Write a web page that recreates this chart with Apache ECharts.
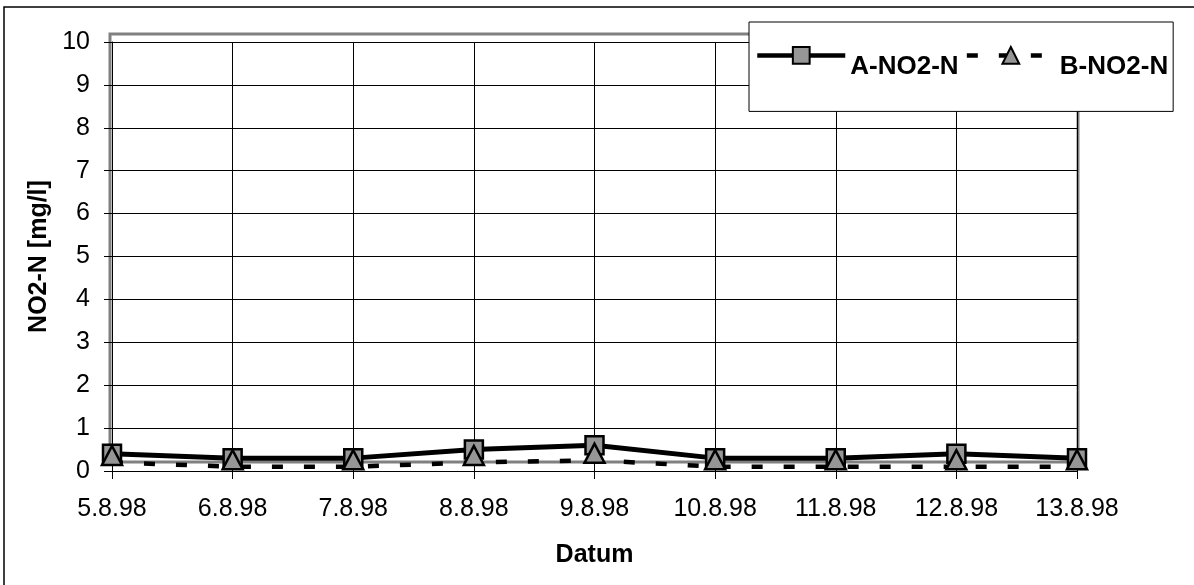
<!DOCTYPE html>
<html>
<head>
<meta charset="utf-8">
<script src="https://cdn.jsdelivr.net/npm/echarts@6/dist/echarts.min.js"></script>
<style>
  html, body { margin: 0; padding: 0; background: #fff; }
  #chart { width: 1194px; height: 585px; }
</style>
</head>
<body>
<div id="chart"></div>
<script>
// Sampling dates (August 1998)
const dates = ['5.8.98', '6.8.98', '7.8.98', '8.8.98', '9.8.98', '10.8.98', '11.8.98', '12.8.98', '13.8.98'];
// Nitrite nitrogen, mg/l
const seriesA = [0.4, 0.3, 0.3, 0.5, 0.6, 0.3, 0.3, 0.4, 0.3];
const seriesB = [0.2, 0.1, 0.1, 0.2, 0.25, 0.1, 0.1, 0.1, 0.1];
const yTicks = { min: 0, max: 10, interval: 1 };

const FONT = '"Liberation Sans", Arial, sans-serif';
const chart = echarts.init(document.getElementById('chart'), null, { renderer: 'canvas' });

chart.setOption({
  animation: false,
  backgroundColor: '#fff',
  textStyle: { fontFamily: FONT },
  grid: { left: 112, right: 117, top: 42, bottom: 114 },
  graphic: [
    // outer chart frame (left and top edges show)
    { type: 'rect', z: 0, shape: { x: 4, y: 7, width: 1300, height: 700 },
      style: { fill: null, stroke: '#000', lineWidth: 1.5 } },
    // plot area frame
    { type: 'rect', z: 0, shape: { x: 110, y: 34, width: 968, height: 428 },
      style: { fill: null, stroke: '#808080', lineWidth: 3 } }
  ],
  legend: {
    left: 749, top: 22,
    padding: [24, 5, 32, 6],
    backgroundColor: '#fff',
    borderColor: '#000',
    borderWidth: 1,
    itemWidth: 88,
    itemHeight: 21,
    itemGap: 6,
    lineStyle: { width: 4.5, color: '#000' },
    formatter: '{t|{name}}',
    textStyle: {
      fontFamily: FONT, fontSize: 26, fontWeight: 'bold', color: '#000',
      rich: { t: { fontFamily: FONT, fontSize: 26, fontWeight: 'bold', color: '#000', padding: [22, 0, 0, 0] } }
    },
    data: ['A-NO2-N', 'B-NO2-N']
  },
  xAxis: {
    type: 'category',
    data: dates,
    boundaryGap: false,
    name: 'Datum',
    nameLocation: 'middle',
    nameGap: 72,
    nameTextStyle: { fontFamily: FONT, fontSize: 25, fontWeight: 'bold', color: '#000' },
    axisLine: { lineStyle: { color: '#000', width: 1 } },
    axisTick: { show: true, length: 8, alignWithLabel: true, lineStyle: { color: '#000' } },
    axisLabel: { fontFamily: FONT, fontSize: 25, color: '#000', margin: 26 },
    splitLine: { show: true, lineStyle: { color: '#000', width: 1 } }
  },
  yAxis: {
    type: 'value',
    min: yTicks.min, max: yTicks.max, interval: yTicks.interval,
    name: 'NO2-N [mg/l]',
    nameLocation: 'middle',
    nameGap: 60,
    nameTextStyle: { fontFamily: FONT, fontSize: 25, fontWeight: 'bold', color: '#000' },
    axisLine: { show: true, lineStyle: { color: '#000', width: 1 } },
    axisTick: { show: true, length: 8, lineStyle: { color: '#000' } },
    axisLabel: { fontFamily: FONT, fontSize: 25, color: '#000', margin: 22 },
    splitLine: { show: true, lineStyle: { color: '#000', width: 1 } }
  },
  series: [
    {
      name: 'A-NO2-N',
      type: 'line',
      data: seriesA,
      symbol: 'rect',
      symbolSize: 18,
      lineStyle: { color: '#000', width: 5 },
      itemStyle: { color: '#969696', borderColor: '#000', borderWidth: 2.5 },
      z: 3
    },
    {
      name: 'B-NO2-N',
      type: 'line',
      data: seriesB,
      symbol: 'triangle',
      symbolSize: [20, 19],
      symbolOffset: [0, -7],
      lineStyle: { color: '#000', width: 4.5, type: [11, 21] },
      itemStyle: { color: '#969696', borderColor: '#000', borderWidth: 2.5 },
      z: 4
    }
  ]
});
</script>
</body>
</html>
